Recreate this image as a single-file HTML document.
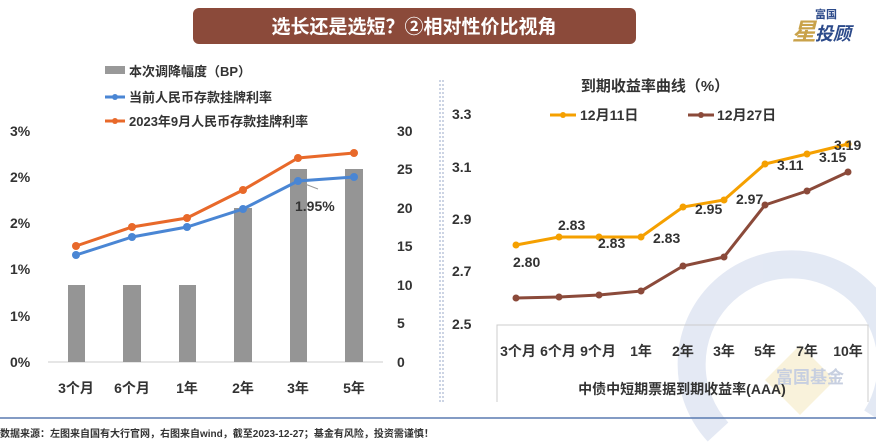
<!DOCTYPE html>
<html><head><meta charset="utf-8"><style>
html,body{margin:0;padding:0;background:#fff;width:876px;height:443px;overflow:hidden;font-family:"Liberation Sans","Noto Sans CJK SC",sans-serif;}
svg{display:block;overflow:hidden;}
</style></head><body>
<svg width="876" height="443" viewBox="0 0 876 443" xmlns="http://www.w3.org/2000/svg" font-family="Liberation Sans, Noto Sans CJK SC, sans-serif" font-weight="bold">
<g opacity="0.5">
<path d="M718,432 A100,100 0 1,1 876,418" fill="none" stroke="#c9d4ea" stroke-width="28"/>
<polygon points="800,345 835,380 800,415 765,380" fill="#f5e6b8"/>
</g>
<text x="810" y="383" font-size="17" fill="#c7cfe0" text-anchor="middle">富国基金</text>
<rect x="193" y="8" width="443" height="36" rx="6" fill="#8b4a3a"/>
<text x="414" y="33" font-size="19" fill="#fff" text-anchor="middle">选长还是选短？②相对性价比视角</text>
<text x="815" y="18" font-size="11" fill="#2c4a8a">富国</text>
<text x="792" y="40" font-size="24" fill="#c9a24a" font-style="italic">星</text>
<text x="815" y="40" font-size="18" fill="#2c4a8a" font-style="italic">投顾</text>
<line x1="440" y1="80" x2="440" y2="403" stroke="#9aaac8" stroke-dasharray="2,2"/>
<line x1="443" y1="80" x2="443" y2="403" stroke="#9aaac8" stroke-dasharray="2,2"/>
<rect x="105" y="66" width="20" height="8" fill="#999"/>
<text x="129" y="76" font-size="13" fill="#333">本次调降幅度（BP）</text>
<line x1="105" y1="97" x2="125" y2="97" stroke="#4a86d4" stroke-width="3"/><circle cx="115" cy="97" r="3" fill="#4a86d4"/>
<text x="129" y="102" font-size="13" fill="#333">当前人民币存款挂牌利率</text>
<line x1="105" y1="121" x2="125" y2="121" stroke="#e8692a" stroke-width="3"/><circle cx="115" cy="121" r="3" fill="#e8692a"/>
<text x="129" y="126" font-size="13" fill="#333">2023年9月人民币存款挂牌利率</text>
<g font-size="14" fill="#333">
<text x="10" y="136">3%</text><text x="10" y="182">2%</text><text x="10" y="228">2%</text><text x="10" y="274">1%</text><text x="10" y="321">1%</text><text x="10" y="367">0%</text>
<text x="397" y="136">30</text><text x="397" y="174">25</text><text x="397" y="213">20</text><text x="397" y="251">15</text><text x="397" y="290">10</text><text x="397" y="328">5</text><text x="397" y="367">0</text>
</g>
<line x1="48" y1="362" x2="383" y2="362" stroke="#ccc"/>
<g fill="#959595">
<rect x="68" y="285" width="17" height="77"/><rect x="123" y="285" width="18" height="77"/><rect x="179" y="285" width="17" height="77"/>
<rect x="234" y="208" width="18" height="154"/><rect x="290" y="169" width="17" height="193"/><rect x="345" y="169" width="18" height="193"/>
</g>
<g font-size="14" fill="#333" text-anchor="middle">
<text x="76" y="393">3个月</text><text x="132" y="393">6个月</text><text x="187" y="393">1年</text><text x="243" y="393">2年</text><text x="298" y="393">3年</text><text x="354" y="393">5年</text>
</g>
<polyline points="76,246 132,227 187,218 243,190 298,158 354,153" fill="none" stroke="#e8692a" stroke-width="3"/>
<g fill="#e8692a"><circle cx="76" cy="246" r="4"/><circle cx="132" cy="227" r="4"/><circle cx="187" cy="218" r="4"/><circle cx="243" cy="190" r="4"/><circle cx="298" cy="158" r="4"/><circle cx="354" cy="153" r="4"/></g>
<polyline points="76,255 132,237 187,227 243,209 298,181 354,177" fill="none" stroke="#4a86d4" stroke-width="3"/>
<g fill="#4a86d4"><circle cx="76" cy="255" r="4"/><circle cx="132" cy="237" r="4"/><circle cx="187" cy="227" r="4"/><circle cx="243" cy="209" r="4"/><circle cx="298" cy="181" r="4"/><circle cx="354" cy="177" r="4"/></g>
<line x1="305" y1="184" x2="318" y2="189" stroke="#999"/>
<text x="295" y="211" font-size="14" fill="#333">1.95%</text>
<text x="655" y="91" font-size="15" fill="#333" text-anchor="middle">到期收益率曲线（%）</text>
<line x1="550" y1="115" x2="576" y2="115" stroke="#f5a000" stroke-width="3"/><circle cx="563" cy="115" r="3" fill="#f5a000"/>
<text x="580" y="120" font-size="14" fill="#333">12月11日</text>
<line x1="688" y1="115" x2="714" y2="115" stroke="#8b4a3a" stroke-width="3"/><circle cx="701" cy="115" r="3" fill="#8b4a3a"/>
<text x="717" y="120" font-size="14" fill="#333">12月27日</text>
<g font-size="14" fill="#333">
<text x="452" y="119">3.3</text><text x="452" y="172">3.1</text><text x="452" y="224">2.9</text><text x="452" y="276">2.7</text><text x="452" y="329">2.5</text>
</g>
<polyline points="497,402 497,325 868,325 868,402" fill="none" stroke="#ccc"/>
<g font-size="14" fill="#333" text-anchor="middle">
<text x="518" y="356">3个月</text><text x="558" y="356">6个月</text><text x="598" y="356">9个月</text><text x="641" y="356">1年</text><text x="683" y="356">2年</text><text x="724" y="356">3年</text><text x="765" y="356">5年</text><text x="807" y="356">7年</text><text x="848" y="356">10年</text>
<text x="682" y="394">中债中短期票据到期收益率(AAA)</text>
</g>
<polyline points="516,298 559,297 599,295 641,291 683,266 724,257 765,205 807,191 848,172" fill="none" stroke="#8b4a3a" stroke-width="3"/>
<g fill="#8b4a3a"><circle cx="516" cy="298" r="3.5"/><circle cx="559" cy="297" r="3.5"/><circle cx="599" cy="295" r="3.5"/><circle cx="641" cy="291" r="3.5"/><circle cx="683" cy="266" r="3.5"/><circle cx="724" cy="257" r="3.5"/><circle cx="765" cy="205" r="3.5"/><circle cx="807" cy="191" r="3.5"/><circle cx="848" cy="172" r="3.5"/></g>
<polyline points="516,245 559,237 599,237 641,237 683,207 724,200 765,164 807,154 848,144" fill="none" stroke="#f5a000" stroke-width="3"/>
<g fill="#f5a000"><circle cx="516" cy="245" r="3.5"/><circle cx="559" cy="237" r="3.5"/><circle cx="599" cy="237" r="3.5"/><circle cx="641" cy="237" r="3.5"/><circle cx="683" cy="207" r="3.5"/><circle cx="724" cy="200" r="3.5"/><circle cx="765" cy="164" r="3.5"/><circle cx="807" cy="154" r="3.5"/><circle cx="848" cy="144" r="3.5"/></g>
<g font-size="14" fill="#333">
<text x="513" y="267">2.80</text><text x="558" y="230">2.83</text><text x="598" y="248">2.83</text><text x="653" y="243">2.83</text><text x="695" y="214">2.95</text><text x="736" y="204">2.97</text><text x="777" y="170">3.11</text><text x="819" y="162">3.15</text><text x="834" y="150">3.19</text>
</g>
<line x1="0" y1="418" x2="876" y2="418" stroke="#5a7ab0" stroke-width="1.5"/>
<text x="0" y="437" font-size="10" fill="#333">数据来源：左图来自国有大行官网，右图来自wind，截至2023-12-27；基金有风险，投资需谨慎！</text>
</svg>
</body></html>
